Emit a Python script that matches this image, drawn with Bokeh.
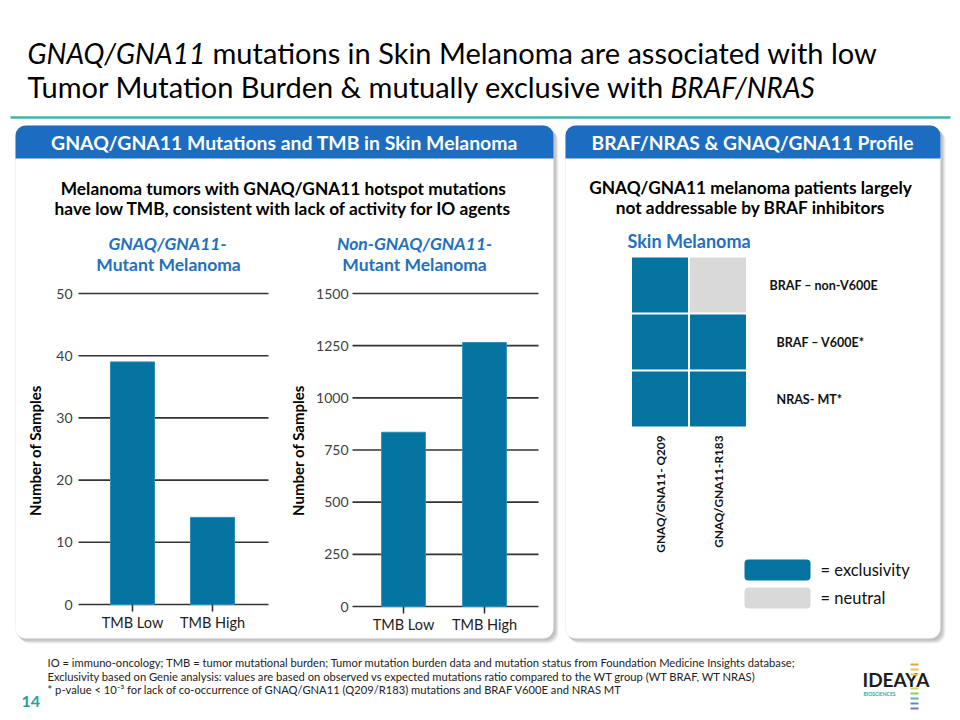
import math
from bokeh.plotting import figure
from bokeh.models import Range1d, BoxAnnotation
from bokeh.core.properties import value
from bokeh.embed import file_html
from bokeh.resources import INLINE

# ---------------- data ----------------
tmb_categories = ["TMB Low", "TMB High"]
gnaq_mutant_counts = [39, 14]
non_gnaq_mutant_counts = [835, 1265]
left_ticks = [0, 10, 20, 30, 40, 50]
right_ticks = [0, 250, 500, 750, 1000, 1250, 1500]

heat_columns = ["GNAQ/GNA11- Q209", "GNAQ/GNA11-R183"]
heat_rows = ["BRAF – non-V600E", "BRAF – V600E*", "NRAS- MT*"]
heat_status = [
    ["exclusivity", "neutral"],
    ["exclusivity", "exclusivity"],
    ["exclusivity", "exclusivity"],
]
legend_items = ["exclusivity", "neutral"]

# ---------------- styling ----------------
W, H = 952, 712
FONT = "Lato"
BLUE_HDR = "#1C6DC1"
BLUE_TXT = "#2170BF"
BAR = "#04739F"
BAR_EDGE = "#2A8DB8"
GRAY = "#D9D9D9"
TEAL = "#3DB3AE"
status_color = {"exclusivity": BAR, "neutral": GRAY}


def X(px):
    return px


def Y(py):
    return H - py


def yrange(v0, p0, v1, p1):
    a = (Y(p1) - Y(p0)) / (v1 - v0)
    b = Y(p0) - a * v0
    return Range1d(start=(0 - b) / a, end=(H - b) / a)


def xrange_(v0, p0, v1, p1):
    a = (X(p1) - X(p0)) / (v1 - v0)
    b = X(p0) - a * v0
    return Range1d(start=(0 - b) / a, end=(W - b) / a)


p = figure(width=W, height=H, x_range=Range1d(0, W), y_range=Range1d(0, H),
           output_backend="svg", toolbar_location=None, min_border=0,
           background_fill_color="white", border_fill_color="white")
p.axis.visible = False
p.grid.visible = False
p.outline_line_color = None

p.extra_y_ranges = {
    "ly": yrange(0, 604, 50, 293),
    "ry": yrange(0, 606, 1500, 293),
    "hy": yrange(0, 284.5, 2, 398.5),
}
p.extra_x_ranges = {
    "lx": xrange_(0, 132, 1, 212),
    "rx": xrange_(0, 403, 1, 484),
    "hx": xrange_(0, 659.5, 1, 717.5),
}


def txt(x, y, text, size, style="normal", color="black", align="left",
        baseline="middle", font=FONT, angle=0, **kw):
    p.text(x=x, y=y, text=text, text_font=value(font), text_font_size=size,
           text_font_style=style, text_color=color, text_align=align,
           text_baseline=baseline, angle=angle, **kw)


# ---------------- title ----------------
txt([X(27)], [Y(52)], ["GNAQ/GNA11"], "28px", style="italic")
txt([X(212)], [Y(52)], ["mutations in Skin Melanoma are associated with low"], "29px")
txt([X(27)], [Y(86)], ["Tumor Mutation Burden & mutually exclusive with"], "29px")
txt([X(670)], [Y(86)], ["BRAF/NRAS"], "28px", style="italic")
p.segment(x0=[X(10)], x1=[X(950)], y0=[Y(117)], y1=[Y(117)], line_color=TEAL, line_width=2.5)

# ---------------- panels ----------------
for (l, r) in [(15, 553), (565, 940)]:
    for k, a in [(5, 0.14), (4, 0.18), (3, 0.22), (2, 0.3)]:
        p.add_layout(BoxAnnotation(left=X(l + k - 1), right=X(r + k), top=Y(125 + k), bottom=Y(638 + k),
                                   fill_color="#9A9A9A", fill_alpha=a, line_color=None,
                                   border_radius=10, level="underlay"))
    p.add_layout(BoxAnnotation(left=X(l), right=X(r), top=Y(125), bottom=Y(638),
                               fill_color="white", fill_alpha=1, line_color="#D6D6D6",
                               line_width=1, border_radius=10, level="underlay"))
    p.add_layout(BoxAnnotation(left=X(l), right=X(r), top=Y(125), bottom=Y(158),
                               fill_color=BLUE_HDR, fill_alpha=1, line_color=None,
                               border_radius=(10, 10, 0, 0), level="underlay"))

txt([X(284)], [Y(142)], ["GNAQ/GNA11 Mutations and TMB in Skin Melanoma"], "19.4px",
    style="bold", color="white", align="center")
txt([X(752)], [Y(142)], ["BRAF/NRAS & GNAQ/GNA11 Profile"], "19.2px",
    style="bold", color="white", align="center")

# left panel texts
txt([X(283), X(283)], [Y(188), Y(208)],
    ["Melanoma tumors with GNAQ/GNA11 hotspot mutations",
     "have low TMB, consistent with lack of activity for IO agents"],
    "17.3px", style="bold", align="center")
txt([X(167)], [Y(243)], ["GNAQ/GNA11-"], "17.5px", style="bold italic", color=BLUE_TXT, align="center")
txt([X(168)], [Y(264)], ["Mutant Melanoma"], "17.5px", style="bold", color=BLUE_TXT, align="center")
txt([X(414)], [Y(243)], ["Non-GNAQ/GNA11-"], "17.5px", style="bold italic", color=BLUE_TXT, align="center")
txt([X(414)], [Y(264)], ["Mutant Melanoma"], "17.5px", style="bold", color=BLUE_TXT, align="center")

# ---------------- bar charts ----------------
AX_COLOR = "#333333"
TICK_TXT = "#404040"
charts = [
    ("lx", "ly", left_ticks, gnaq_mutant_counts, 78, 268, 72, 34, 604, 0.55),
    ("rx", "ry", right_ticks, non_gnaq_mutant_counts, 352, 538, 348, 297, 606, 0.54),
]
for xr, yr, ticks, vals, gx0, gx1, lx, titx, zero_py, bw in charts:
    p.segment(x0=X(gx0), x1=X(gx1), y0=ticks, y1=ticks, y_range_name=yr,
              line_color=AX_COLOR, line_width=1.6)
    idx = list(range(len(tmb_categories)))
    p.vbar(x=idx, top=vals, bottom=0, width=bw, x_range_name=xr, y_range_name=yr,
           fill_color=BAR, line_color=BAR_EDGE, line_width=1)
    p.segment(x0=idx, x1=idx, y0=Y(zero_py), y1=Y(zero_py + 7), x_range_name=xr,
              line_color=AX_COLOR, line_width=1.6)
    txt(X(lx), ticks, [str(t) for t in ticks], "14px", color=TICK_TXT, align="right",
        y_range_name=yr)
    txt(idx, Y(zero_py + 18), tmb_categories, "14.5px", color="#222222", align="center",
        x_range_name=xr)
    txt([X(titx)], [Y(450)], ["Number of Samples"], "15px", style="bold", align="center",
        angle=math.pi / 2)

# ---------------- right panel ----------------
txt([X(750), X(750)], [Y(187), Y(207)],
    ["GNAQ/GNA11 melanoma patients largely", "not addressable by BRAF inhibitors"],
    "17.3px", style="bold", align="center")
txt([X(627)], [Y(240)], ["Skin Melanoma"], "18px", style="bold", color=BLUE_TXT)

hx, hy, hc = [], [], []
for ri, row in enumerate(heat_status):
    for ci, st in enumerate(row):
        hx.append(ci)
        hy.append(ri)
        hc.append(status_color[st])
p.rect(x=hx, y=hy, width=0.965, height=0.965, fill_color=hc, line_color=None,
       x_range_name="hx", y_range_name="hy")
txt([X(769), X(776), X(776)], list(range(len(heat_rows))), heat_rows, "12.5px",
    style="bold", color="#111111", y_range_name="hy")
txt(list(range(len(heat_columns))), Y(435), heat_columns, "11.8px", style="bold",
    color="#111111", align="right", angle=math.pi / 2, x_range_name="hx")

# legend
for i, st in enumerate(legend_items):
    top = 559 + 28 * i
    p.add_layout(BoxAnnotation(left=X(744), right=X(810), top=Y(top), bottom=Y(top + 21),
                               fill_color=status_color[st], fill_alpha=1, line_color=None,
                               border_radius=4))
    txt([X(820)], [Y(top + 10.5)], ["= " + st], "16.5px", color="#111111")

# ---------------- footnotes ----------------
foot = [
    "IO = immuno-oncology; TMB = tumor mutational burden; Tumor mutation burden data and mutation status from Foundation Medicine Insights database;",
    "Exclusivity based on Genie analysis: values are based on observed vs expected mutations ratio compared to the WT group (WT BRAF, WT NRAS)",
    "* p-value < 10⁻³ for lack of co-occurrence of GNAQ/GNA11 (Q209/R183) mutations and BRAF V600E and NRAS MT",
]
txt([X(47)] * 3, [Y(662), Y(675.5), Y(689)], foot, "11.2px", color="#222222")
txt([X(21)], [Y(701)], ["14"], "16px", style="bold", color="#21A39C")

# logo
txt([X(862)], [Y(679)], ["IDEAYA"], "19px", style="bold", color="#1E1E1E")
txt([X(863)], [Y(693)], ["BIOSCIENCES"], "5px", style="bold", color="#2AA6A0")
helix_colors = ["#E8A040", "#F0C040", "#E8D050", "#C8D860", "#90C870", "#60B8A0", "#5090C8", "#8070C0"]
hy_pos = [664, 669, 674, 688, 693, 698, 703, 708]
p.segment(x0=[X(910)] * 8, x1=[X(918)] * 8, y0=[Y(v) for v in hy_pos], y1=[Y(v) for v in hy_pos],
          line_color=helix_colors, line_width=2)

open("out.html", "w").write(file_html(p, INLINE))
